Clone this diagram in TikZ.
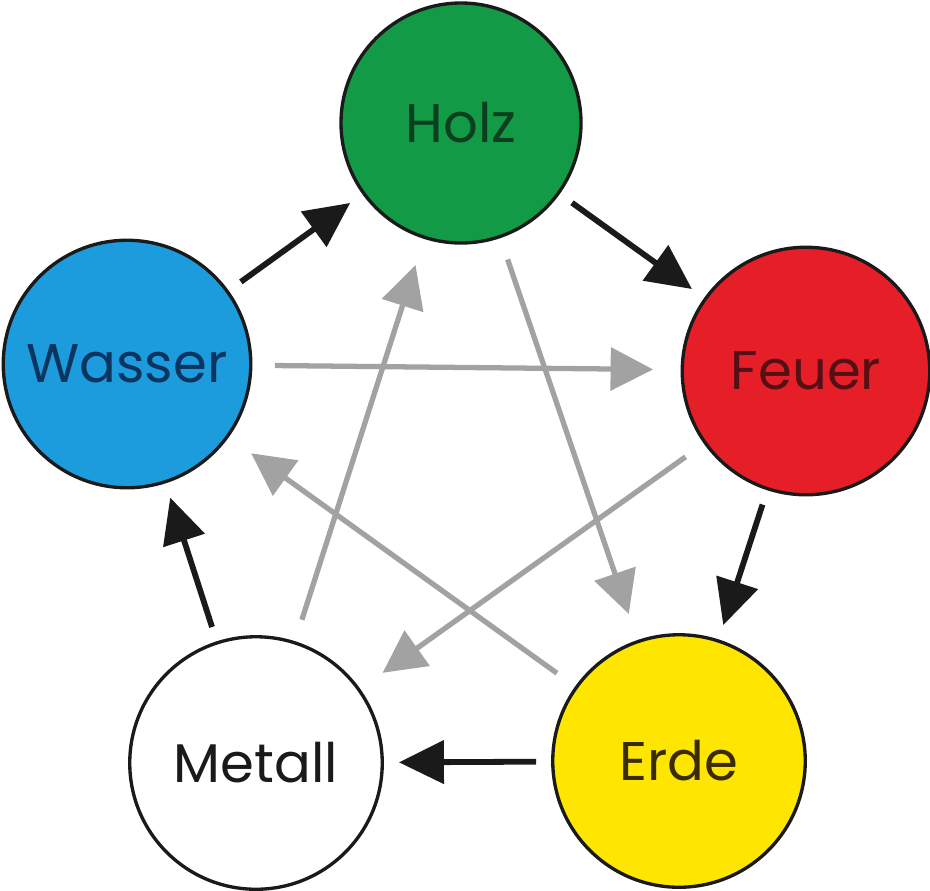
\documentclass[tikz,border=0pt]{standalone}
\usepackage{fontspec}
\setmainfont{Poppins}
\usetikzlibrary{arrows.meta}
\definecolor{HolzGreen}{HTML}{139A47}
\definecolor{HolzText}{HTML}{0B3F1F}
\definecolor{WasserBlue}{HTML}{1C9BDD}
\definecolor{WasserText}{HTML}{0B3460}
\definecolor{FeuerRed}{HTML}{E61E28}
\definecolor{FeuerText}{HTML}{551015}
\definecolor{ErdeYellow}{HTML}{FFE600}
\definecolor{ErdeText}{HTML}{3A2C05}
\definecolor{RimBlack}{HTML}{1A1A1A}
\definecolor{CycleGray}{HTML}{A2A2A2}

\begin{document}
\begin{tikzpicture}[
    element/.style={circle, draw=RimBlack, line width=1.9pt, minimum size=4.95cm,
                    inner sep=0pt, font=\fontsize{31}{36}\selectfont},
    nourish/.style={draw=RimBlack, line width=3.3pt, shorten <=0.3cm, shorten >=0.3cm,
                    -{Triangle[length=0.9cm, width=0.85cm]}},
    restrain/.style={draw=CycleGray, line width=3pt, shorten <=0.45cm, shorten >=0.55cm,
                     -{Triangle[length=0.85cm, width=0.85cm]}}
]
    \useasboundingbox (0,0) rectangle (18.6,-17.8);
    \node[element, minimum size=4.8cm, fill=HolzGreen, text=HolzText] (holz) at (9.22,-2.46) {Holz};
    \node[element, fill=WasserBlue, text=WasserText] (wasser) at (2.54,-7.28) {Wasser};
    \node[element, fill=FeuerRed, text=FeuerText] (feuer) at (16.12,-7.42) {Feuer};
    \node[element, minimum size=5.05cm, fill=white, text=RimBlack] (metall) at (5.12,-15.26) {Metall};
    \node[element, minimum size=5.05cm, fill=ErdeYellow, text=ErdeText] (erde) at (13.58,-15.22) {Erde};

    \draw[restrain] (wasser) -- (feuer);
    \draw[restrain] (holz) -- (erde);
    \draw[restrain] (feuer) -- (metall);
    \draw[restrain] (erde) -- (wasser);
    \draw[restrain] (metall) -- (holz);

    \draw[nourish] (wasser) -- (holz);
    \draw[nourish] (holz) -- (feuer);
    \draw[nourish] (feuer) -- (erde);
    \draw[nourish] (erde) -- (metall);
    \draw[nourish] (metall) -- (wasser);
\end{tikzpicture}
\end{document}
